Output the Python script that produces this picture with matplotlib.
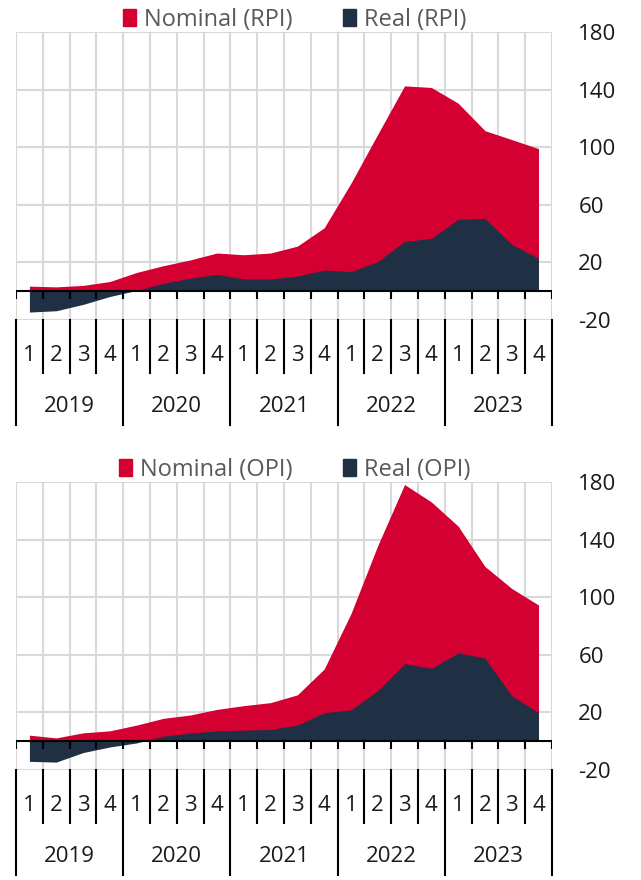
import matplotlib
matplotlib.use("Agg")
import matplotlib.pyplot as plt
import matplotlib.transforms as mtransforms
from matplotlib.patches import Patch

plt.rcParams['font.family'] = ['Open Sans', 'DejaVu Sans']
plt.rcParams['axes.unicode_minus'] = False

years = ['2019', '2020', '2021', '2022', '2023']
quarters = ['1', '2', '3', '4']

nominal_rpi = [3.5, 3, 4, 6.7, 13, 17.7, 21.7, 26.5, 25.3, 26.5, 31.3, 44,
               75, 109, 142.6, 141.5, 130.6, 111.5, 105.3, 99]
real_rpi = [-14.5, -13.6, -9.2, -3.7, 0.5, 5.5, 9, 11.7, 8.5, 8.5, 10.4, 14.7,
            13.6, 20.5, 34.6, 36.6, 49.8, 50.5, 32.5, 22.8]

nominal_opi = [4.2, 2.3, 5.8, 7.2, 11.2, 15.9, 18.2, 22.1, 24.7, 26.8, 32.2, 50.1,
               88.6, 135.9, 178.3, 166.2, 149.4, 121.4, 106.1, 94.6]
real_opi = [-14, -14.5, -7.9, -4, -1.2, 3.5, 5.6, 7.2, 7.7, 8.2, 11.2, 19.8,
            21.7, 35.2, 53.8, 50.6, 61.3, 57.8, 31.5, 19.8]

panels = [
    ('Nominal (RPI)', 'Real (RPI)', nominal_rpi, real_rpi),
    ('Nominal (OPI)', 'Real (OPI)', nominal_opi, real_opi),
]

RED = '#d50032'
NAVY = '#1f3044'
GRID = '#d9d9d9'
FS = 16

fig = plt.figure(figsize=(6.41, 8.8), dpi=100)
axes_pos = [[0.025, 0.6364, 0.836, 0.3272],
            [0.025, 0.125, 0.836, 0.3272]]

n = len(years) * len(quarters)
xs = list(range(n))

for pos, (nom_lbl, real_lbl, nom, real) in zip(axes_pos, panels):
    ax = fig.add_axes(pos)
    ax.fill_between(xs, 0, nom, color=RED, lw=0, zorder=2)
    ax.fill_between(xs, 0, real, color=NAVY, lw=0, zorder=3)

    ax.set_xlim(-0.5, n - 0.5)
    ax.set_ylim(-20, 180)
    ax.set_yticks([-20, 20, 60, 100, 140, 180])
    ax.yaxis.tick_right()
    ax.tick_params(axis='y', length=0, pad=19, labelsize=FS, labelcolor='#1a1a1a')
    ax.set_xticks([])
    for s in ax.spines.values():
        s.set_visible(False)
    ax.grid(axis='y', color=GRID, lw=1.5, zorder=0)
    for b in range(n + 1):
        ax.axvline(b - 0.5, color=GRID, lw=1.5, zorder=0)
    ax.axhline(0, color='black', lw=1.5, zorder=4)
    ax.vlines([b - 0.5 for b in range(n + 1)], -5.5, 0, color='black', lw=1.5, zorder=4)

    # category axis below the plot
    tr = mtransforms.blended_transform_factory(ax.transData, ax.transAxes)
    for b in range(n + 1):
        bottom = -0.365 if b % 4 == 0 else -0.184
        ax.plot([b - 0.5, b - 0.5], [0, bottom], color='black', lw=1.5,
                transform=tr, clip_on=False)
    for i in range(n):
        ax.text(i, -0.122, quarters[i % 4], transform=tr, ha='center', va='center',
                fontsize=FS, color='#1a1a1a')
    for j, y in enumerate(years):
        ax.text(4 * j + 1.5, -0.302, y, transform=tr, ha='center', va='center',
                fontsize=FS, color='#1a1a1a')

    handles = [Patch(color=RED, label=nom_lbl), Patch(color=NAVY, label=real_lbl)]
    ax.legend(handles=handles, loc='lower center', bbox_to_anchor=(0.52, 1.0),
              ncol=2, frameon=False, fontsize=17, labelcolor='#595959',
              handlelength=0.55, handleheight=0.75, handletextpad=0.35,
              columnspacing=2.1, borderpad=0, borderaxespad=0)

fig.savefig('out.png', dpi=100)
